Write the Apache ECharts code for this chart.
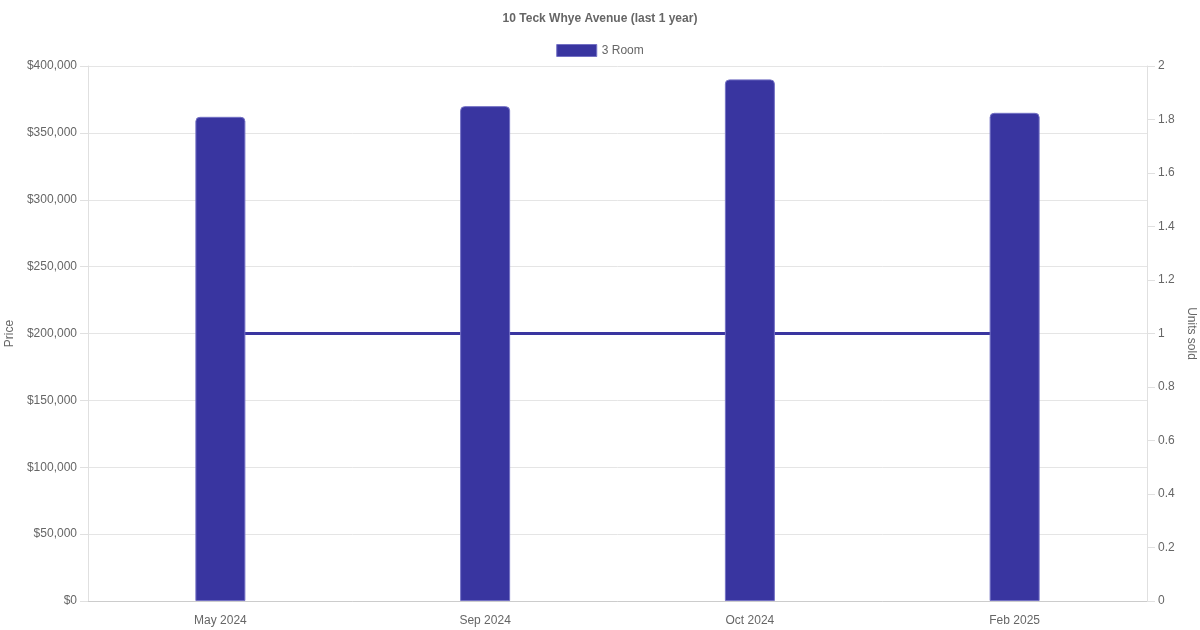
<!DOCTYPE html>
<html>
<head>
<meta charset="utf-8">
<script src="https://cdn.jsdelivr.net/npm/echarts@6/dist/echarts.min.js"></script>
<style>
html,body{margin:0;padding:0;background:#fff;}
#chart{width:1200px;height:630px;}
</style>
</head>
<body>
<div id="chart"></div>
<script>
const categories = ['May 2024', 'Sep 2024', 'Oct 2024', 'Feb 2025'];
const prices = [362000, 370000, 390000, 365000];
const unitsSold = [1, 1, 1, 1];
const seriesName = '3 Room';
const titleText = '10 Teck Whye Avenue (last 1 year)';

const FONT = '"Liberation Sans", Arial, sans-serif';
const chart = echarts.init(document.getElementById('chart'));
chart.setOption({
  backgroundColor: '#fff',
  animation: false,
  textStyle: { fontFamily: FONT },
  title: {
    text: titleText,
    left: 'center',
    top: 8,
    textStyle: { fontSize: 12, fontWeight: 'bold', color: '#666', fontFamily: FONT }
  },
  legend: {
    data: [seriesName],
    top: 39,
    left: 'center',
    itemWidth: 40,
    itemHeight: 12,
    itemGap: 10,
    icon: 'rect',
    itemStyle: { borderColor: '#7471c4', borderWidth: 1 },
    textStyle: { fontSize: 12, color: '#666', fontFamily: FONT }
  },
  grid: { left: 88, right: 53, top: 66, bottom: 29, containLabel: false, outerBoundsMode: 'none' },
  xAxis: {
    type: 'category',
    data: categories,
    axisLine: { show: true, lineStyle: { color: '#cccccc', width: 1 } },
    axisTick: { show: false },
    axisLabel: { color: '#666', fontSize: 12, margin: 14, fontFamily: FONT },
    splitLine: { show: false }
  },
  yAxis: [
    {
      type: 'value',
      min: 0,
      max: 400000,
      interval: 50000,
      name: 'Price',
      nameLocation: 'middle',
      nameRotate: 90,
      nameGap: 66,
      nameTextStyle: { color: '#666', fontSize: 12, fontFamily: FONT },
      axisLine: { show: true, lineStyle: { color: '#e0e0e0' } },
      axisTick: { show: true, length: 8, lineStyle: { color: '#e0e0e0' } },
      axisLabel: {
        color: '#666', fontSize: 12, margin: 11, fontFamily: FONT,
        formatter: v => '$' + v.toLocaleString('en-US')
      },
      splitLine: { show: true, lineStyle: { color: '#e5e5e5', width: 1 } }
    },
    {
      type: 'value',
      min: 0,
      max: 2,
      interval: 0.2,
      name: 'Units sold',
      nameLocation: 'middle',
      nameRotate: -90,
      nameGap: 35,
      nameTextStyle: { color: '#666', fontSize: 12, fontFamily: FONT },
      axisLine: { show: true, lineStyle: { color: '#e0e0e0' } },
      axisTick: { show: true, length: 8, lineStyle: { color: '#e0e0e0' } },
      axisLabel: {
        color: '#666', fontSize: 12, margin: 11, fontFamily: FONT,
        formatter: v => String(Math.round(v * 10) / 10)
      },
      splitLine: { show: false }
    }
  ],
  series: [
    {
      name: 'Units sold',
      type: 'line',
      yAxisIndex: 1,
      data: unitsSold,
      symbol: 'none',
      z: 1,
      lineStyle: { color: '#3a35a0', width: 3 },
      itemStyle: { color: '#3a35a0' }
    },
    {
      name: seriesName,
      type: 'bar',
      yAxisIndex: 0,
      data: prices,
      barWidth: 50,
      z: 3,
      itemStyle: {
        color: '#3935a0',
        borderColor: '#7471c4',
        borderWidth: 1,
        borderRadius: [4, 4, 0, 0]
      }
    }
  ]
});
</script>
</body>
</html>
